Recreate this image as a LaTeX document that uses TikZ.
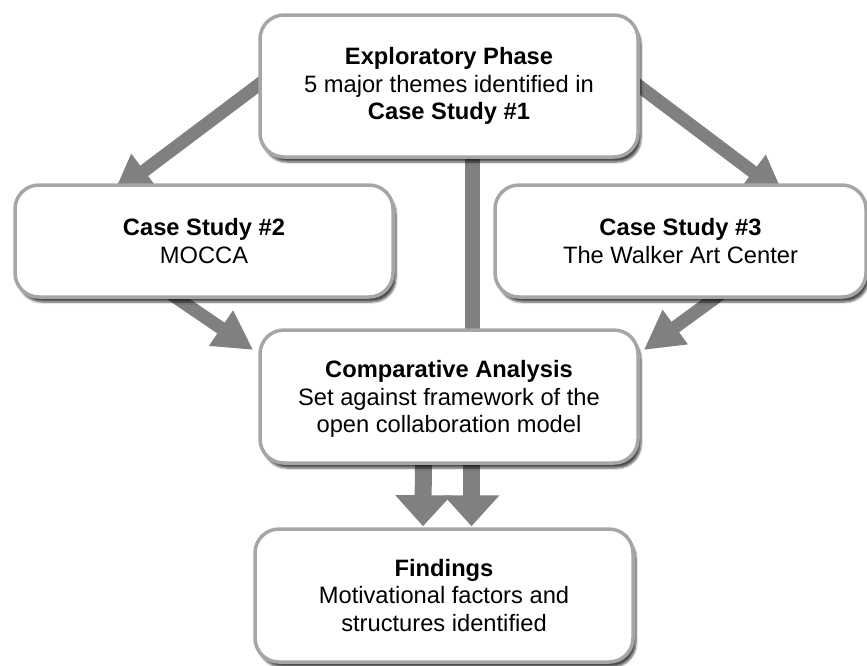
\documentclass[tikz,border=0pt]{standalone}
\usepackage{fontspec}
\setmainfont{Liberation Sans}
\usetikzlibrary{arrows.meta,calc,backgrounds,shadows.blur}
\definecolor{arrowgray}{RGB}{128,128,128}
\definecolor{bordergray}{RGB}{166,166,166}
\tikzset{
  box/.style={draw=bordergray, line width=3.5pt, fill=white, rounded corners=24pt,
    align=center, inner sep=0pt, font=\fontsize{23.7}{27.5}\selectfont,
    blur shadow={shadow xshift=3pt, shadow yshift=-5pt, shadow blur steps=6, shadow opacity=70}},
  flow/.style={draw=arrowgray, line width=13pt, -{Triangle[width=40pt,length=39pt]}},
  downflow/.style={draw=arrowgray, line width=17pt, -{Triangle[width=54pt,length=31pt]}},
  bar/.style={draw=arrowgray, line width=15pt}
}
\begin{document}
\begin{tikzpicture}[x=1pt,y=-1pt]
\useasboundingbox (0,0) rectangle (867,665);
\node[box, minimum width=378pt, minimum height=142pt] (top) at (449,86)
  {\textbf{Exploratory Phase}\\5 major themes identified in\\\textbf{Case Study \#1}};
\node[box, minimum width=378pt, minimum height=112pt] (left) at (204,241)
  {\textbf{Case Study \#2}\\MOCCA};
\node[box, minimum width=371pt, minimum height=112pt] (right) at (680.5,241)
  {\textbf{Case Study \#3}\\The Walker Art Center};
\node[box, minimum width=378pt, minimum height=133pt, text depth=0pt] (mid) at (449,396.5)
  {\textbf{Comparative Analysis}\\Set against framework of the\\open collaboration model};
\node[box, minimum width=378pt, minimum height=133pt] (find) at (444,595.5)
  {\textbf{Findings}\\Motivational factors and\\structures identified};
\begin{scope}[on background layer]
  \draw[flow] ($(top.west)+(20,-16)$) -- ($(left.north)+(-91,11)$);
  \draw[flow] ($(top.east)+(-18,-13)$) -- ($(right.north)+(103.5,12)$);
  \draw[bar] ($(top.south)+(23.5,-15)$) -- ($(mid.north)+(23.5,15)$);
  \draw[flow] ($(left.south)+(-54,-19)$) -- ($(mid.west)+(-5,-46.5)$);
  \draw[flow] ($(right.south)+(59.5,-19)$) -- ($(mid.east)+(4,-46.5)$);
  \draw[downflow] ($(mid.south)+(-25.5,-20)$) -- ($(find.north)+(-21,-1)$);
  \draw[downflow] ($(mid.south)+(22.5,-20)$) -- ($(find.north)+(27.5,-1)$);
\end{scope}
\end{tikzpicture}
\end{document}
